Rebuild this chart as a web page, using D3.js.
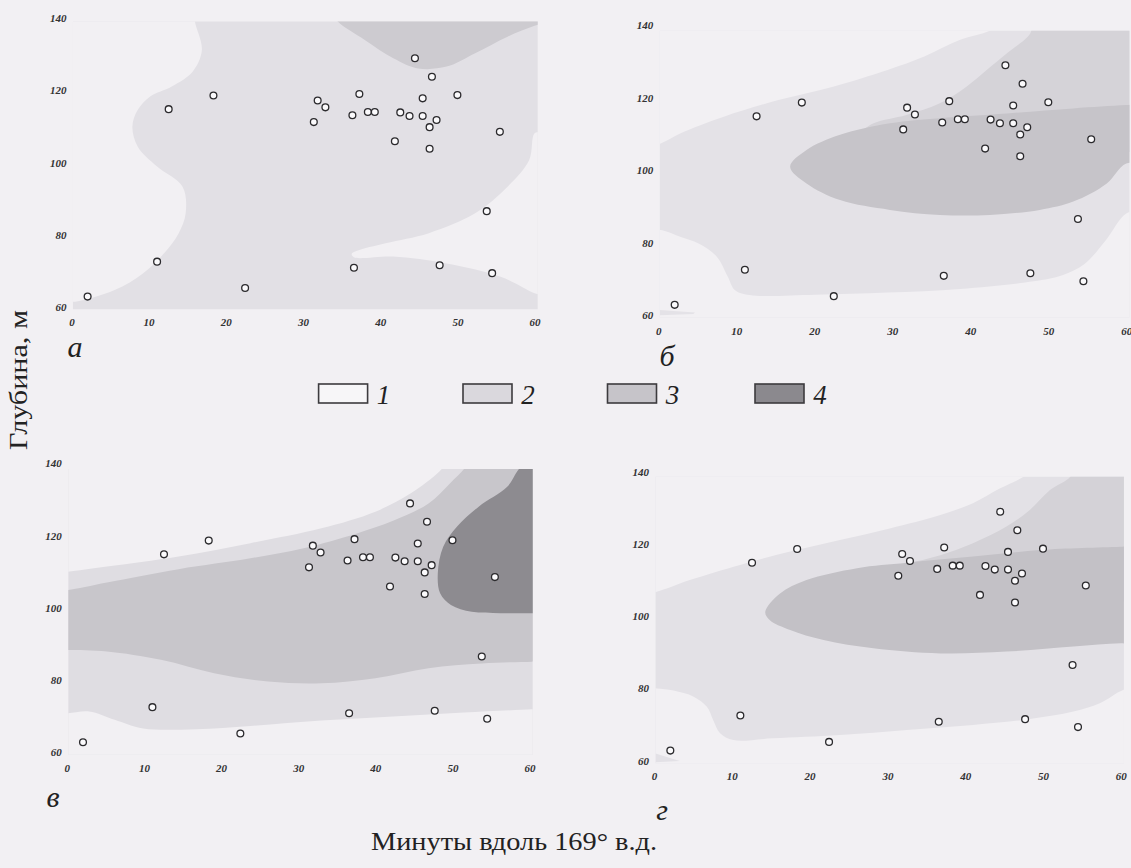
<!DOCTYPE html>
<html><head><meta charset="utf-8">
<script src="https://cdn.jsdelivr.net/npm/d3@7"></script>
<style>body{margin:0;background:#f2f0f3}svg{display:block}</style>
</head><body>
<svg id="c" width="1131" height="868"></svg>
<script>
// ---------- data ----------
const xTicks = [0, 10, 20, 30, 40, 50, 60];
const yTicks = [60, 80, 100, 120, 140];
const panelLetters = ["а", "б", "в", "г"];
const legendLabels = ["1", "2", "3", "4"];
const xTitle = "Минуты вдоль 169° в.д.";
const yTitle = "Глубина, м";

// stations (minutes along 169°E, depth m)
const stationMinutes = [44.5,46.7,18.4,37.3,50.0,31.9,45.5,12.6,32.9,36.4,38.4,39.3,42.6,43.8,45.5,47.3,31.4,46.4,55.5,41.9,46.4,53.8,11.1,36.6,47.7,54.5,22.5,2.1];
const stationDepth   = [128.9,123.8,118.6,119.0,118.7,117.2,117.8,114.8,115.3,113.1,114.0,114.0,113.9,112.9,112.9,111.8,111.2,109.8,108.5,105.9,103.8,86.5,72.5,70.8,71.5,69.3,65.2,62.8];

// contour boundaries [minutes, depth]
// panel а
const aWhiteLeft = [[16.0,141],[16.0,139.1],[16.9,131.2],[15.7,125.2],[13.0,121.1],[10.2,118.3],[8.6,114.6],[7.9,110.0],[8.6,104.4],[11.1,98.9],[14.4,93.3],[14.8,85.9],[13.9,80.4],[12.0,74.8],[9.3,69.3],[5.6,64.6],[0.5,61.4],[-1,61.5]];
const aWhiteTongue = [[61,108.5],[60,108.1],[59.3,100.7],[56.5,93.3],[52.3,85.9],[46.3,80.4],[40.7,77.6],[37.0,75.5],[36.3,74.6],[36.6,73.7],[41.7,73.9],[48.6,72.0],[55.6,68.3],[60,63.7],[61,63.2]];
const aDark = [[34.0,141],[34.5,139.1],[38.0,134.0],[41.7,128.9],[44.9,126.1],[48.6,126.6],[52.3,130.3],[56.5,134.9],[60,137.9],[62,139]];
// panel б
const bWhiteUpper = [[-1,106.6],[0.37,107.4],[2.8,110.1],[8.4,114.7],[15.4,119.3],[22.4,123.0],[29.4,127.6],[34.1,131.3],[38.7,135.9],[42.5,138.4],[44.5,141]];
const bWhiteLower = [[62,88.6],[60,88.0],[57.4,80.7],[54.6,74.0],[51.8,71.0],[48.1,69.3],[38.7,67.2],[29.4,66.2],[20.1,65.6],[11.7,65.5],[9.8,66.9],[8.9,70.6],[7.5,76.1],[5.1,79.8],[2.8,81.6],[0.5,83.4],[-1,83.6]];
const bSliver = [[0.2,59.9],[4.5,60.3],[4.7,60.7],[0.2,61.4]];
const bBand = [[47.9,141],[47.7,137.7],[44.7,132.2],[42.1,127.6],[39.5,123.0],[36.1,118.4],[31.8,115.2],[27.6,112.9],[25.5,109.8]];
const bCore = [[16.9,100.9],[19.0,105.5],[23.3,109.7],[29.7,112.9],[36.1,114.3],[44.7,115.6],[53.2,117.0],[60,117.9],[64,118.3],[64,101.5],[60,101.8],[57.5,96.3],[53.2,91.3],[48.9,89.0],[42.5,87.6],[36.1,87.6],[29.7,89.0],[23.3,91.7],[19.0,96.3]];
// panel в
const cWhiteUpper = [[-1,109.9],[0.14,110.0],[5.2,111.4],[14.5,114.2],[23.8,117.9],[33.0,122.0],[40.0,126.6],[44.6,131.7],[48.3,137.7],[49.5,141]];
const cWhiteLower = [[-1,70.8],[0.14,70.8],[2.9,71.3],[6.2,69.0],[9.9,66.6],[16.8,66.4],[23.8,67.3],[33.0,68.8],[42.3,69.9],[51.5,71.0],[60.3,71.9],[62,72.1]];
const cMidUpper = [[-1,104.8],[0.14,104.9],[5.2,107.0],[14.5,110.7],[23.8,113.7],[30.7,116.5],[37.6,120.6],[42.3,124.1],[46.9,128.9],[49.7,134.5],[51.5,138.4],[52.2,141]];
const cMidLower = [[62,85.2],[60.3,85.1],[53.8,84.6],[46.9,83.3],[40.0,80.5],[33.0,79.1],[26.1,79.6],[19.1,81.9],[12.2,85.6],[5.2,87.9],[0.14,88.3],[-1,88.3]];
const cDark = [[59.6,141],[58.4,137.8],[57.1,133.5],[53.4,128.0],[50.6,122.5],[48.8,116.9],[48.1,109.6],[48.4,104.0],[49.8,100.8],[52.5,98.9],[56.2,98.5],[60,98.5],[62,98.5]];
// panel г
const dWhiteUpper = [[-1,106.6],[0.35,106.8],[4.6,110.0],[11.05,114.2],[17.5,117.9],[23.9,121.1],[30.3,124.3],[36.8,128.0],[41.0,131.3],[44.5,135.4],[47.5,138.6],[48.8,141]];
const dWhiteLower = [[62,80.2],[60.3,79.6],[57.3,75.9],[53.9,73.6],[47.5,71.3],[41.0,69.9],[32.5,68.5],[23.9,67.1],[15.3,66.2],[10.2,65.7],[8.5,67.6],[7.6,71.3],[6.8,74.9],[5.1,77.7],[2.5,79.4],[0.35,80.0],[-1,80.1]];
const dSliver = [[0.2,59.6],[3.3,59.9],[0.2,62.0]];
const dBand = [[53.8,141],[53.5,138.6],[50.9,134.9],[48.3,129.4],[45.3,124.8],[41.0,120.2],[36.8,116.9],[32.5,114.6],[28.2,112.3],[25,109]];
const dCore = [[14.3,101.2],[16.2,106.3],[19.6,110.0],[26.1,113.3],[32.5,114.8],[41.0,116.5],[49.6,118.3],[60,119.2],[64,119.5],[64,92.3],[60,92.5],[53.9,91.6],[45.3,90.2],[36.8,89.7],[28.2,91.1],[21.8,93.4],[17.5,96.2],[14.9,98.9]];

// ---------- drawing ----------
const BG = "#f2f0f3";
const svg = d3.select("#c");
svg.append("rect").attr("width",1131).attr("height",868).attr("fill",BG);

const panels = [
  {id:"a", xr:[71.4,534.6], yr:[306.7,18.3], top:139.1, letter:[75,357]},
  {id:"b", xr:[658.3,1126.3], yr:[315,25], top:138.4, letter:[667,366]},
  {id:"c", xr:[66.8,529.6], yr:[752.3,463.3], top:138.4, letter:[53,807]},
  {id:"d", xr:[654,1120.8], yr:[760.7,471.7], top:138.6, letter:[662,820]}
];

function pathOf(sx, sy, pieces){
  let d = "";
  pieces.forEach((pc,i)=>{
    let s = d3.line().x(p=>sx(p[0])).y(p=>sy(p[1]))
      .curve(pc.smooth ? d3.curveCatmullRom.alpha(0.5) : d3.curveLinear)(pc.pts);
    if(i>0) s = "L" + s.slice(1);
    d += s;
  });
  return d + "Z";
}
function closedPath(sx, sy, pts){
  return d3.line().x(p=>sx(p[0])).y(p=>sy(p[1])).curve(d3.curveCatmullRomClosed.alpha(0.5))(pts);
}

const S = (pts)=>({smooth:true, pts});
const L = (pts)=>({smooth:false, pts});

const layers = {
  a: [
    {fill:"#e2e0e5", pieces:[L([[-3,57],[63,57],[63,142],[-3,142]])]},
    {fill:BG, pieces:[S(aWhiteLeft), L([[-3,57],[-3,142]])]},
    {fill:BG, pieces:[S(aWhiteTongue)]},
    {fill:"#cdcbd0", pieces:[S(aDark), L([[63,142]])]}
  ],
  b: [
    {fill:"#e4e2e7", pieces:[L([[-3,57],[63,57],[63,142],[-3,142]])]},
    {fill:BG, pieces:[S(bWhiteUpper), L([[-3,142]])]},
    {fill:BG, pieces:[S(bWhiteLower), L([[-3,57],[63,57]])]},
    {fill:"#e4e2e7", pieces:[L(bSliver)]},
    {fill:"#d5d3d8", pieces:[S(bBand), L([[40,105],[63,105],[63,142]])]},
    {fill:"#c6c4c9", closed:bCore}
  ],
  c: [
    {fill:"#dfdde2", pieces:[L([[-3,57],[63,57],[63,142],[-3,142]])]},
    {fill:BG, pieces:[S(cWhiteUpper), L([[-3,142]])]},
    {fill:BG, pieces:[S(cWhiteLower), L([[63,57],[-3,57]])]},
    {fill:"#c8c6cb", pieces:[S(cMidUpper), L([[63,142],[63,85.2]]), S(cMidLower)]},
    {fill:"#8d8b90", pieces:[S(cDark), L([[63,98.5],[63,142]])]}
  ],
  d: [
    {fill:"#e3e1e6", pieces:[L([[-3,57],[63,57],[63,142],[-3,142]])]},
    {fill:BG, pieces:[S(dWhiteUpper), L([[-3,142]])]},
    {fill:BG, pieces:[S(dWhiteLower), L([[-3,57],[63,57]])]},
    {fill:"#e3e1e6", pieces:[L(dSliver)]},
    {fill:"#d4d2d7", pieces:[S(dBand), L([[40,104],[63,104],[63,142]])]},
    {fill:"#c3c1c6", closed:dCore}
  ]
};

const defs = svg.append("defs");
panels.forEach((P, i)=>{
  const sx = d3.scaleLinear().domain([0,60]).range(P.xr);
  const sy = d3.scaleLinear().domain([60,140]).range(P.yr);
  const g = svg.append("g");
  const cid = "clip-"+P.id;
  defs.append("clipPath").attr("id",cid).append("rect")
    .attr("x", sx(0.2)).attr("y", sy(P.top))
    .attr("width", sx(60.4)-sx(0.2)).attr("height", sy(59.3)-sy(P.top));
  const fills = g.append("g").attr("clip-path","url(#"+cid+")");
  layers[P.id].forEach(Ly=>{
    const d = Ly.closed ? closedPath(sx, sy, Ly.closed) : pathOf(sx, sy, Ly.pieces);
    fills.append("path").attr("d", d).attr("fill", Ly.fill).attr("stroke","none");
  });

  // axes (labels only)
  const ax = g.append("g").attr("transform","translate(0,"+sy(60)+")")
    .call(d3.axisBottom(sx).tickValues(xTicks).tickSize(0).tickPadding(12).tickFormat(d3.format("d")));
  const ay = g.append("g").attr("transform","translate("+sx(0)+",0)")
    .call(d3.axisLeft(sy).tickValues(yTicks).tickSize(0).tickPadding(5).tickFormat(d3.format("d")));
  [ax, ay].forEach(a=>{
    a.select(".domain").remove();
    a.selectAll("text").attr("fill","#333")
      .style("font-family","'Liberation Serif', serif").style("font-style","italic")
      .style("font-weight","bold").style("font-size","11px");
  });

  // stations
  g.append("g").selectAll("circle").data(stationMinutes).join("circle")
    .attr("cx", (d)=>sx(d)).attr("cy", (d,j)=>sy(stationDepth[j]))
    .attr("r", 3.4).attr("fill","#fbfafc").attr("stroke","#2b2a2d").attr("stroke-width",1.3);

  // panel letter
  g.append("text").attr("x", P.letter[0]).attr("y", P.letter[1]).attr("text-anchor","middle")
    .style("font-family","'Liberation Serif', serif").style("font-style","italic")
    .style("font-size","30px").attr("fill","#222").text(panelLetters[i]);
});

// legend
const legendFill = ["#f7f6f8", "#dad8dd", "#c6c4c9", "#8b898e"];
const legendX = [318.6, 463, 607.5, 755];
const leg = svg.append("g");
legendLabels.forEach((lab, i)=>{
  leg.append("rect").attr("x", legendX[i]).attr("y", 384).attr("width", 49).attr("height", 19)
    .attr("fill", legendFill[i]).attr("stroke","#3c3b3e").attr("stroke-width",1.6);
  leg.append("text").attr("x", legendX[i]+65).attr("y", 404).attr("text-anchor","middle")
    .style("font-family","'Liberation Serif', serif").style("font-style","italic")
    .style("font-size","27px").attr("fill","#222").text(lab);
});

// titles
svg.append("text").attr("x", 514).attr("y", 850).attr("text-anchor","middle")
  .attr("textLength", 286).attr("lengthAdjust","spacingAndGlyphs")
  .style("font-family","'Liberation Serif', serif").style("font-size","26px").attr("fill","#222")
  .text(xTitle);
svg.append("text").attr("transform","translate(27,380) rotate(-90)").attr("text-anchor","middle")
  .attr("textLength", 140).attr("lengthAdjust","spacingAndGlyphs")
  .style("font-family","'Liberation Serif', serif").style("font-size","26px").attr("fill","#222")
  .text(yTitle);
</script>
</body></html>
